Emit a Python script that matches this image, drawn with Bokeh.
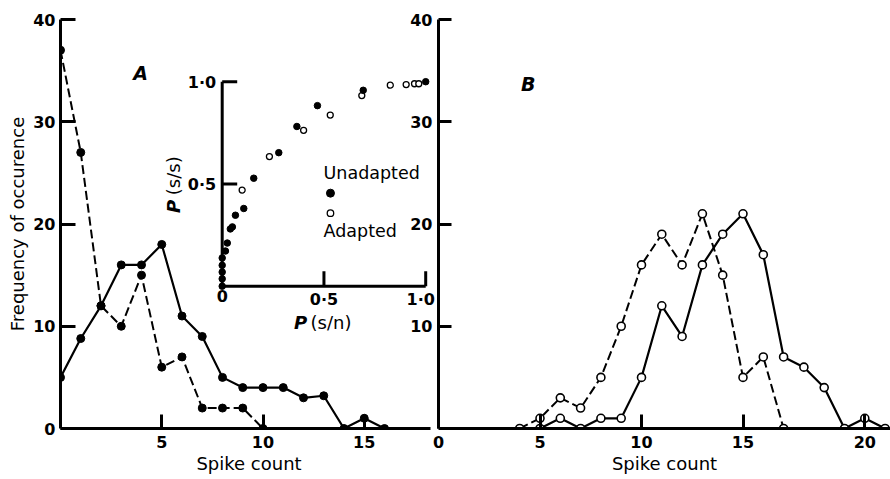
import math
from bokeh.plotting import figure
from bokeh.models import FixedTicker, Range1d, Label, LabelSet, ColumnDataSource
from bokeh.layouts import row
from bokeh.core.properties import value
from bokeh.embed import file_html
from bokeh.resources import INLINE

FONT = "DejaVu Sans"

# ---------------- data ----------------
# Panel A (filled circles)
a_solid_x = list(range(0, 17))
a_solid_y = [5, 8.8, 12, 16, 16, 18, 11, 9, 5, 4, 4, 4, 3, 3.2, 0, 1, 0]
a_dashed_x = list(range(0, 11))
a_dashed_y = [37, 27, 12, 10, 15, 6, 7, 2, 2, 2, 0]

# Panel B (open circles)
b_dashed_x = list(range(4, 18))
b_dashed_y = [0, 1, 3, 2, 5, 10, 16, 19, 16, 21, 15, 5, 7, 0]
b_solid_x = list(range(5, 23))
b_solid_y = [0, 1, 0, 1, 1, 5, 12, 9, 16, 19, 21, 17, 7, 6, 4, 0, 1, 0]

# Inset: P(s/s) against P(s/n)
inset_unadapted_x = [0, 0, 0, 0, 0, 0.016, 0.025, 0.040, 0.050, 0.065, 0.106,
                     0.155, 0.278, 0.367, 0.468, 0.693, 1.0]
inset_unadapted_y = [0, 0.036, 0.069, 0.102, 0.138, 0.172, 0.211, 0.280, 0.290,
                     0.347, 0.380, 0.528, 0.653, 0.781, 0.883, 0.958, 1.0]
inset_adapted_x = [0.098, 0.232, 0.400, 0.531, 0.686, 0.826, 0.904, 0.945, 0.966]
inset_adapted_y = [0.470, 0.634, 0.762, 0.837, 0.932, 0.983, 0.986, 0.990, 0.990]

y_ticks_a = [0, 10, 20, 30, 40]
y_ticks_b = [10, 20, 30, 40]
x_ticks_a = [5, 10, 15]
x_ticks_b = [0, 5, 10, 15, 21]
x_tick_labels_b = {21: "20"}
inset_ticks = [0, 0.5, 1.0]
inset_tick_labels = ["0", "0·5", "1·0"]
legend_labels = ["Unadapted", "Adapted"]

# ---------------- layout constants (pixels) ----------------
A_LEFT, A_AXIS_W, A_FRAME_W = 60, 370, 377   # frame a little wider than its axis line
TOP, FRAME_H, BOTTOM = 19, 409, 51
A_UNIT = 20.25
B_LEFT, B_FRAME_W = 40, 452
B_UNIT = 20.3
OVERLAP = A_LEFT + A_FRAME_W - (438 - B_LEFT)
# inset placement inside frame A (frame-relative pixels)
INS_X0 = 221.7 - 60
INS_Y0 = 285.7 - 19
INS_SX = 203.5
INS_SY = 204.5
TICK_FONT = "16px"


def style_axes(p, standoff_y):
    for ax in (p.xaxis[0], p.yaxis[0]):
        ax.axis_line_width = 3
        ax.axis_line_color = "black"
        ax.major_tick_line_width = 3
        ax.major_tick_line_color = "black"
        ax.major_tick_out = 0
        ax.minor_tick_line_color = None
        ax.major_label_text_font = FONT
        ax.major_label_text_font_size = TICK_FONT
        ax.major_label_text_font_style = "bold"
        ax.major_label_text_color = "black"
        ax.axis_label_text_font = FONT
        ax.axis_label_text_font_size = "18px"
        ax.axis_label_text_font_style = "normal"
        ax.axis_label_text_color = "black"
    p.xaxis[0].major_tick_in = 14
    p.yaxis[0].major_tick_in = 15
    p.xaxis[0].major_label_standoff = 7
    p.xaxis[0].axis_label_standoff = 2
    p.yaxis[0].major_label_standoff = standoff_y
    p.yaxis[0].axis_label_standoff = 2
    p.xgrid.grid_line_color = None
    p.ygrid.grid_line_color = None
    p.outline_line_color = None


# ---------------- panel A ----------------
pa = figure(width=A_LEFT + A_FRAME_W, height=TOP + FRAME_H + BOTTOM,
            x_range=Range1d(0, A_FRAME_W / A_UNIT), y_range=Range1d(0, 40),
            min_border_left=A_LEFT, min_border_right=0,
            min_border_top=TOP, min_border_bottom=BOTTOM,
            output_backend="svg", toolbar_location=None)
style_axes(pa, 5)
pa.xaxis.ticker = FixedTicker(ticks=x_ticks_a)
pa.xaxis.bounds = (0, A_AXIS_W / A_UNIT)
pa.xaxis.axis_label = "Spike count"
pa.yaxis.ticker = FixedTicker(ticks=y_ticks_a)
pa.yaxis.axis_label = "Frequency of occurence"
pa.background_fill_color = "white"
pa.border_fill_color = "white"

pa.line(a_dashed_x, a_dashed_y, line_width=2, color="black", line_dash="9 4")
pa.line(a_solid_x, a_solid_y, line_width=2.2, color="black")
pa.scatter(a_dashed_x, a_dashed_y, size=8, color="black")
pa.scatter(a_solid_x, a_solid_y, size=8, color="black")

pa.add_layout(Label(x=3.95, y=34.8, text="A", text_font=FONT, text_font_size="19px",
                    text_font_style="bold italic", text_align="center",
                    text_baseline="middle", text_color="black"))

# inset via extra ranges mapped onto frame A
pa.extra_x_ranges = {"ix": Range1d(-INS_X0 / INS_SX, (A_FRAME_W - INS_X0) / INS_SX)}
pa.extra_y_ranges = {"iy": Range1d(-(FRAME_H - INS_Y0) / INS_SY, INS_Y0 / INS_SY)}
R = dict(x_range_name="ix", y_range_name="iy")

i0, i1 = min(inset_ticks), max(inset_ticks)
pa.segment(x0=[i0, i0], y0=[i0, i0], x1=[i0, i1], y1=[i1, i0],
           line_width=3, color="black", **R)
tick_pos = [t for t in inset_ticks if t > i0]
pa.ray(x=[i0] * len(tick_pos), y=tick_pos, length=15, length_units="screen",
       angle=0, line_width=3, color="black", **R)
pa.ray(x=tick_pos, y=[i0] * len(tick_pos), length=15, length_units="screen",
       angle=math.pi / 2, line_width=3, color="black", **R)

tl = dict(zip(inset_ticks, inset_tick_labels))
ysrc = ColumnDataSource(dict(x=[i0] * len(tick_pos), y=tick_pos,
                             t=[tl[t] for t in tick_pos]))
pa.add_layout(LabelSet(x="x", y="y", text="t", source=ysrc, x_offset=-6, y_offset=-1,
                       text_align="right", text_baseline="middle",
                       text_font=value(FONT), text_font_size=value(TICK_FONT),
                       text_font_style=value("bold"), text_color="black", **R))
xsrc = ColumnDataSource(dict(x=inset_ticks, y=[i0] * len(inset_ticks),
                             t=inset_tick_labels,
                             dx=[0, 0, -5]))
pa.add_layout(LabelSet(x="x", y="y", text="t", source=xsrc, x_offset="dx", y_offset=-4,
                       text_align="center", text_baseline="top",
                       text_font=value(FONT), text_font_size=value(TICK_FONT),
                       text_font_style=value("bold"), text_color="black", **R))

# inset axis labels
pa.text(x=[-0.239], y=[0.39], text=["P"], angle=math.pi / 2,
        text_align="center", text_baseline="middle", text_font=value(FONT),
        text_font_size="18px", text_font_style="bold italic", text_color="black", **R)
pa.text(x=[-0.239], y=[0.445], text=["(s/s)"], angle=math.pi / 2,
        text_align="left", text_baseline="middle", text_font=value(FONT),
        text_font_size="18px", text_color="black", **R)
pa.text(x=[0.385], y=[-0.178], text=["P"],
        text_align="center", text_baseline="middle", text_font=value(FONT),
        text_font_size="18px", text_font_style="bold italic", text_color="black", **R)
pa.text(x=[0.434], y=[-0.178], text=["(s/n)"],
        text_align="left", text_baseline="middle", text_font=value(FONT),
        text_font_size="18px", text_color="black", **R)

pa.scatter(inset_adapted_x, inset_adapted_y, size=6, fill_color="white",
           line_color="black", line_width=1.3, **R)
pa.scatter(inset_unadapted_x, inset_unadapted_y, size=6.5, color="black", **R)

# inset key
pa.text(x=[0.498, 0.498], y=[0.553, 0.272], text=legend_labels,
        text_align="left", text_baseline="middle", text_font=value(FONT),
        text_font_size="17.5px", text_color="black", **R)
pa.scatter(x=[0.532], y=[0.455], size=8, color="black", **R)
pa.scatter(x=[0.532], y=[0.357], size=6.5, fill_color="white",
           line_color="black", line_width=1.3, **R)

# ---------------- panel B ----------------
pb = figure(width=B_LEFT + B_FRAME_W, height=TOP + FRAME_H + BOTTOM,
            x_range=Range1d(0, B_FRAME_W / B_UNIT), y_range=Range1d(0, 40),
            min_border_left=B_LEFT, min_border_right=0,
            min_border_top=TOP, min_border_bottom=BOTTOM,
            output_backend="svg", toolbar_location=None)
style_axes(pb, 6)
pb.xaxis.ticker = FixedTicker(ticks=x_ticks_b)
pb.xaxis.major_label_overrides = x_tick_labels_b
pb.yaxis.ticker = FixedTicker(ticks=y_ticks_b)
pb.yaxis[0].major_tick_in = 13
pb.xaxis.axis_label = "Spike count"
pb.background_fill_alpha = 0
pb.border_fill_alpha = 0
pb.margin = (0, 0, 0, -OVERLAP)

pb.line(b_dashed_x, b_dashed_y, line_width=2, color="black", line_dash="9 4")
pb.line(b_solid_x, b_solid_y, line_width=2.2, color="black")
pb.scatter(b_dashed_x, b_dashed_y, size=8, fill_color="white",
           line_color="black", line_width=1.6)
pb.scatter(b_solid_x, b_solid_y, size=8, fill_color="white",
           line_color="black", line_width=1.6)

pb.add_layout(Label(x=4.42, y=33.7, text="B", text_font=FONT, text_font_size="19px",
                    text_font_style="bold italic", text_align="center",
                    text_baseline="middle", text_color="black"))

layout = row(pa, pb)
open("out.html", "w").write(file_html(layout, INLINE))
